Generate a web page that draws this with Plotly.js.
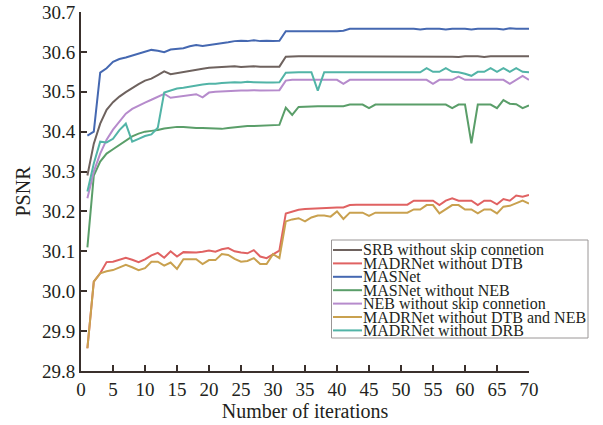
<!DOCTYPE html>
<html>
<head>
<meta charset="utf-8">
<script src="https://cdn.plot.ly/plotly-3.0.1.min.js"></script>
<style>html,body{margin:0;padding:0;background:#fff;}#chart{width:603px;height:425px;}</style>
</head>
<body>
<div id="chart"></div>
<script>
const iterations = [1,2,3,4,5,6,7,8,9,10,11,12,13,14,15,16,17,18,19,20,21,22,23,24,25,26,27,28,29,30,31,32,33,34,35,36,37,38,39,40,41,42,43,44,45,46,47,48,49,50,51,52,53,54,55,56,57,58,59,60,61,62,63,64,65,66,67,68,69,70];

const seriesNames = ["SRB without skip connetion","MADRNet without DTB","MASNet","MASNet without NEB","NEB without skip connetion","MADRNet without DTB and NEB","MADRNet without DRB"];

const srbNoSkip = [30.29,30.37,30.42,30.455,30.474,30.488,30.499,30.51,30.519,30.528,
 30.533,30.542,30.551,30.544,30.547,30.549,30.552,30.555,30.558,30.56,
 30.561,30.563,30.563,30.564,30.562,30.563,30.564,30.563,30.563,30.562,
 30.563,30.588,30.589,30.589,30.589,30.589,30.589,30.589,30.589,30.589,
 30.589,30.589,30.589,30.589,30.589,30.589,30.589,30.589,30.589,30.589,
 30.589,30.589,30.589,30.589,30.589,30.589,30.589,30.588,30.587,30.589,
 30.589,30.589,30.587,30.589,30.589,30.589,30.589,30.589,30.589,30.589];

const madrNoDTB = [29.857,30.024,30.045,30.073,30.074,30.079,30.084,30.079,30.073,30.08,
 30.09,30.096,30.084,30.10,30.087,30.098,30.098,30.097,30.099,30.102,
 30.099,30.105,30.108,30.10,30.097,30.095,30.103,30.087,30.083,30.093,
 30.102,30.195,30.2,30.204,30.206,30.207,30.208,30.208,30.209,30.21,
 30.21,30.216,30.217,30.217,30.217,30.217,30.217,30.217,30.217,30.217,
 30.217,30.227,30.227,30.227,30.227,30.216,30.227,30.233,30.227,30.227,
 30.227,30.216,30.227,30.227,30.218,30.231,30.227,30.24,30.237,30.241];

const masnet = [30.39,30.40,30.548,30.559,30.575,30.582,30.586,30.591,30.596,30.600,
 30.605,30.603,30.599,30.606,30.607,30.609,30.614,30.617,30.615,30.617,
 30.619,30.622,30.624,30.627,30.628,30.627,30.629,30.627,30.628,30.627,
 30.628,30.652,30.652,30.652,30.652,30.652,30.651,30.651,30.652,30.652,
 30.653,30.658,30.658,30.658,30.658,30.657,30.658,30.658,30.658,30.658,
 30.658,30.658,30.656,30.658,30.658,30.658,30.656,30.658,30.658,30.658,
 30.656,30.658,30.658,30.658,30.658,30.656,30.659,30.658,30.658,30.658];

const masnetNoNEB = [30.11,30.29,30.325,30.345,30.356,30.366,30.378,30.388,30.395,30.40,
 30.402,30.404,30.408,30.41,30.412,30.412,30.41,30.409,30.409,30.408,
 30.408,30.407,30.409,30.411,30.412,30.414,30.414,30.415,30.415,30.416,
 30.417,30.46,30.442,30.462,30.463,30.463,30.464,30.464,30.464,30.464,
 30.464,30.468,30.468,30.468,30.459,30.468,30.468,30.468,30.468,30.468,
 30.468,30.468,30.468,30.468,30.468,30.468,30.468,30.459,30.468,30.468,
 30.371,30.468,30.468,30.468,30.459,30.479,30.47,30.469,30.459,30.466];

const nebNoSkip = [30.233,30.30,30.345,30.38,30.405,30.425,30.445,30.457,30.466,30.473,
 30.48,30.488,30.495,30.485,30.487,30.49,30.492,30.494,30.486,30.498,
 30.5,30.501,30.502,30.503,30.503,30.503,30.504,30.503,30.503,30.503,
 30.504,30.528,30.53,30.53,30.53,30.53,30.53,30.53,30.53,30.53,
 30.52,30.53,30.53,30.53,30.53,30.53,30.53,30.53,30.53,30.53,
 30.53,30.53,30.53,30.53,30.52,30.53,30.53,30.53,30.538,30.53,
 30.53,30.53,30.53,30.53,30.53,30.53,30.52,30.53,30.54,30.53];

const madrNoDTBNEB = [29.857,30.024,30.045,30.05,30.053,30.06,30.066,30.06,30.053,30.058,
 30.074,30.074,30.064,30.072,30.056,30.08,30.08,30.08,30.068,30.078,
 30.078,30.093,30.091,30.081,30.074,30.076,30.083,30.068,30.068,30.093,
 30.083,30.175,30.18,30.183,30.175,30.185,30.19,30.19,30.187,30.2,
 30.181,30.197,30.197,30.197,30.189,30.197,30.197,30.197,30.197,30.197,
 30.197,30.205,30.205,30.216,30.216,30.195,30.205,30.216,30.216,30.205,
 30.205,30.195,30.205,30.205,30.195,30.212,30.214,30.22,30.227,30.22];

const madrNoDRB = [30.25,30.32,30.375,30.373,30.382,30.404,30.42,30.375,30.382,30.389,
 30.393,30.41,30.498,30.503,30.508,30.51,30.513,30.516,30.518,30.52,
 30.52,30.522,30.523,30.524,30.523,30.525,30.524,30.523,30.523,30.523,
 30.524,30.548,30.549,30.549,30.549,30.549,30.503,30.549,30.549,30.549,
 30.549,30.549,30.549,30.549,30.549,30.549,30.549,30.549,30.549,30.549,
 30.549,30.549,30.549,30.559,30.55,30.55,30.559,30.55,30.549,30.545,
 30.54,30.55,30.55,30.559,30.55,30.559,30.55,30.559,30.55,30.549];

const xTicks = [0,5,10,15,20,25,30,35,40,45,50,55,60,65,70];
const yTicks = [29.8,29.9,30.0,30.1,30.2,30.3,30.4,30.5,30.6,30.7];

const colors = ["#6e625e","#e06262","#4568b1","#5a9e69","#b68bcc","#c9a14f","#52b4a7"];
const values = [srbNoSkip, madrNoDTB, masnet, masnetNoNEB, nebNoSkip, madrNoDTBNEB, madrNoDRB];

const W = 603, H = 425;
const M = {l:81, r:74, t:12, b:54};
const pw = W - M.l - M.r, ph = H - M.t - M.b;
const px2x = p => (p - M.l) / pw;
const py2y = p => (H - M.b - p) / ph;

const serif = "Liberation Serif, Times New Roman, serif";
const axisColor = "#3a302c";
const textColor = "#231f20";

const traces = values.map((v, i) => ({
  x: iterations, y: v, type: "scatter", mode: "lines", name: seriesNames[i],
  line: {color: colors[i], width: 2}, showlegend: false
}));

// manual legend (box, swatches, labels)
const shapes = [];
const annotations = [];
const legL = 331.5, legR = 588, legT = 240, legB = 338;
shapes.push({type:"rect", xref:"paper", yref:"paper", x0:px2x(legL), x1:px2x(legR), y0:py2y(legB), y1:py2y(legT),
  line:{color:"#9a9696", width:1}, fillcolor:"#ffffff", layer:"above"});
seriesNames.forEach((n, i) => {
  const yc = 250 + i * 13.4;
  shapes.push({type:"line", xref:"paper", yref:"paper", x0:px2x(333), x1:px2x(362), y0:py2y(yc), y1:py2y(yc),
    line:{color:colors[i], width:2}, layer:"above"});
  annotations.push({xref:"paper", yref:"paper", x:px2x(362), y:py2y(yc), xanchor:"left", yanchor:"middle",
    text:n, showarrow:false, font:{family:serif, size:16, color:textColor}, borderpad:0});
});

const layout = {
  width: W, height: H,
  margin: M,
  paper_bgcolor: "#ffffff", plot_bgcolor: "#ffffff",
  showlegend: false,
  xaxis: {
    range: [0, 70], tickvals: xTicks, ticktext: xTicks.map(String),
    ticks: "inside", ticklen: 6, tickwidth: 2, tickcolor: axisColor,
    showline: true, linewidth: 2, linecolor: axisColor, showgrid: false, zeroline: false,
    tickfont: {family: serif, size: 19, color: textColor},
    title: {text: "Number of iterations", font: {family: serif, size: 20, color: textColor}, standoff: 4}
  },
  yaxis: {
    range: [29.8, 30.7], tickvals: yTicks, ticktext: yTicks.map(v => v.toFixed(1)),
    ticks: "inside", ticklen: 6, tickwidth: 2, tickcolor: axisColor,
    showline: true, linewidth: 2, linecolor: axisColor, showgrid: false, zeroline: false,
    tickfont: {family: serif, size: 19, color: textColor},
    title: {text: "PSNR", font: {family: serif, size: 20, color: textColor}, standoff: 6}
  },
  shapes: shapes,
  annotations: annotations
};

Plotly.newPlot("chart", traces, layout, {displayModeBar: false, staticPlot: true});
</script>
</body>
</html>
